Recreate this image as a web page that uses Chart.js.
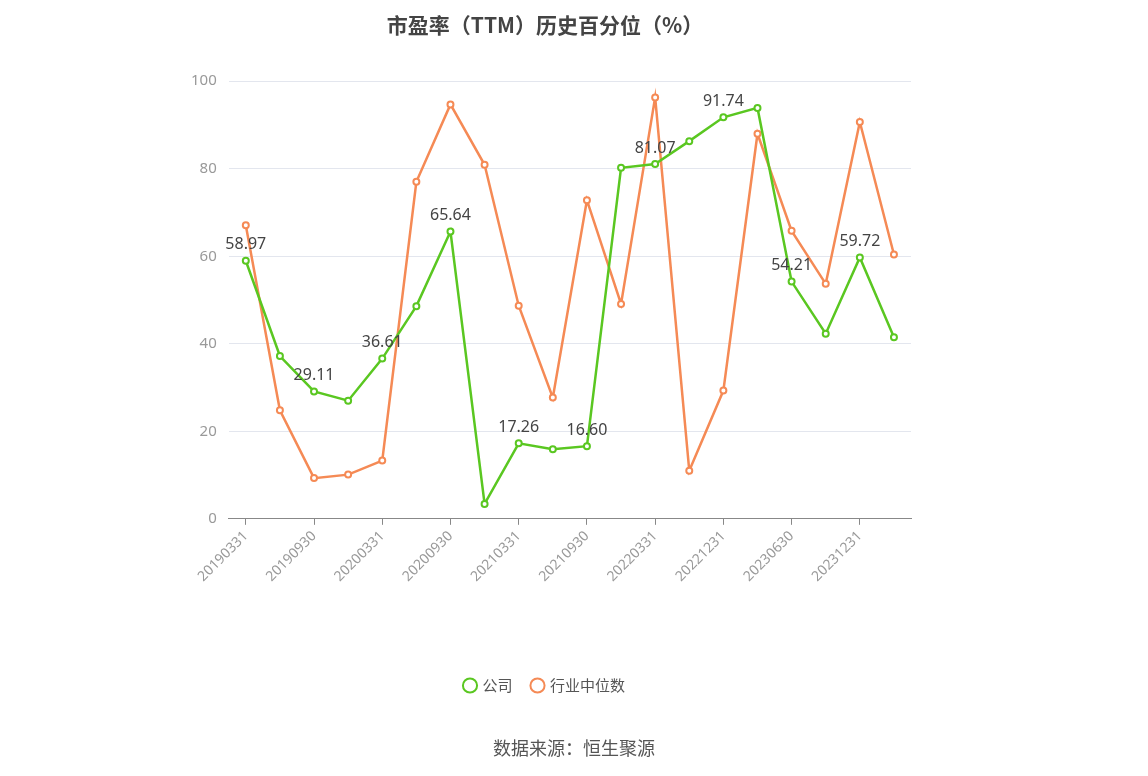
<!DOCTYPE html>
<html><head><meta charset="utf-8">
<script src="https://cdn.jsdelivr.net/npm/chart.js@4/dist/chart.umd.min.js"></script>
<style>html,body{margin:0;padding:0;background:#fff}#wrap{width:1148px;height:776px}</style>
</head><body><div id="wrap"><canvas id="c"></canvas></div>
<script>
const categories = ['20190331','20190630','20190930','20191231','20200331','20200630','20200930','20201231','20210331','20210630','20210930','20211231','20220331','20220930','20221231','20230331','20230630','20230930','20231231','20240331'];
const companyValues = [58.97,37.2,29.11,27.0,36.61,48.6,65.64,3.4,17.26,15.9,16.60,80.2,81.07,86.3,91.74,93.9,54.21,42.3,59.72,41.5];
const industryValues = [67.1,24.8,9.3,10.1,13.3,77.0,94.7,80.9,48.7,27.7,72.8,49.1,96.3,11.0,29.3,88.0,65.8,53.7,90.7,60.4];
const labeledIdx = [0,2,4,6,8,10,12,14,16,18];
const FONT = '"Noto Sans", "Noto Sans CJK SC", sans-serif';
const CJK = '"Noto Sans CJK SC", sans-serif';

const extras = {
  id: 'extras',
  afterDatasetsDraw(chart) {
    const ctx = chart.ctx;
    const meta = chart.getDatasetMeta(0);
    ctx.save();
    ctx.font = '16px ' + FONT;
    ctx.fillStyle = '#444';
    ctx.textAlign = 'center';
    ctx.textBaseline = 'bottom';
    labeledIdx.forEach(i => {
      const p = meta.data[i];
      ctx.fillText(companyValues[i].toFixed(2), p.x, p.y - 8);
    });
    ctx.font = '18px ' + CJK;
    ctx.fillStyle = '#555';
    ctx.textBaseline = 'middle';
    ctx.fillText('数据来源：恒生聚源', 574, 748);
    ctx.restore();
  }
};

new Chart(document.getElementById('c'), {
  type: 'line',
  data: {
    labels: categories,
    datasets: [
      { label: '公司', data: companyValues, borderColor: '#5ac721', backgroundColor: '#fff',
        borderWidth: 2.5, pointRadius: 3, pointBorderWidth: 2, pointBackgroundColor: '#fff', tension: 0 },
      { label: '行业中位数', data: industryValues, borderColor: '#f58a55', backgroundColor: '#fff',
        borderWidth: 2.5, pointRadius: 3, pointBorderWidth: 2, pointBackgroundColor: '#fff', tension: 0 }
    ]
  },
  options: {
    responsive: true, maintainAspectRatio: false, animation: false,
    layout: { padding: { left: 179, right: 237, top: 10, bottom: 73 } },
    plugins: {
      title: { display: true, text: '市盈率（TTM）历史百分位（%）', color: '#444',
        font: { family: CJK, size: 21, weight: 'bold' }, padding: { top: 2, bottom: 44 } },
      legend: { position: 'bottom', labels: { usePointStyle: true, pointStyle: 'circle', boxWidth: 10, boxHeight: 10,
        color: '#555', font: { family: CJK, size: 15 }, padding: 20 } },
      tooltip: { enabled: false }
    },
    scales: {
      x: { offset: true,
        afterFit: s => { s.height += 70; },
        grid: { drawOnChartArea: false, drawTicks: true, tickLength: 6,
          color: c => c.index % 2 === 0 ? '#888' : 'rgba(0,0,0,0)' },
        border: { color: '#888' },
        ticks: { autoSkip: false, maxRotation: 45, minRotation: 45, color: '#999',
          font: { family: FONT, size: 14 },
          callback: (v, i) => i % 2 === 0 ? categories[i] : '' } },
      y: { min: 0, max: 100, ticks: { stepSize: 20, color: '#999', font: { family: FONT, size: 15 }, padding: 12 },
        grid: { color: '#e3e6ee', drawTicks: false }, border: { display: false } }
    }
  },
  plugins: [extras]
});
</script></body></html>
